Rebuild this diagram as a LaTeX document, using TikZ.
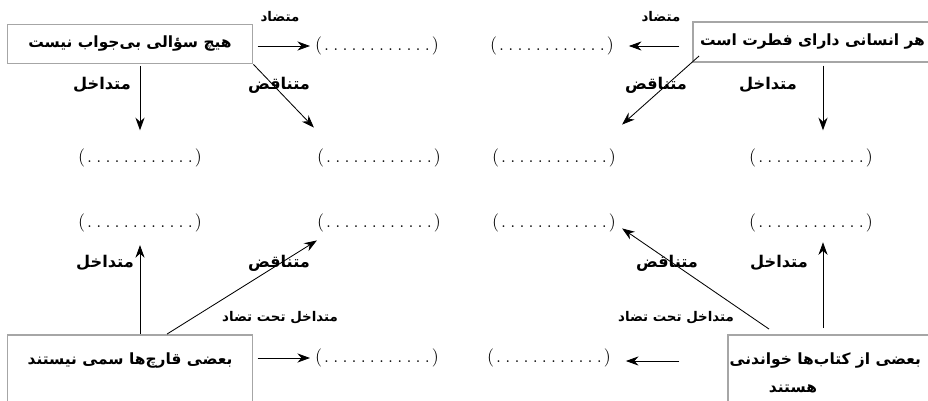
\documentclass[tikz,border=0pt]{standalone}
\usepackage{fontspec}
\newfontfamily\arabicfont[Script=Arabic]{DejaVu Sans}
\TeXXeTstate=1
\usetikzlibrary{arrows.meta,calc}

\newcommand{\fa}[1]{\arabicfont\bfseries\beginR #1\endR}
\newcommand{\blank}{(\hbox to 78pt{\leaders\hbox to 6.5pt{\hss.\hss}\hfill})}

\begin{document}
\begin{tikzpicture}
[
	              x = 0.025cm,
	              y = -0.025cm,
	           >= {Stealth[length=9pt, width=6.5pt]},
	   prop/.style = { draw=black!35, line width=1.3pt, inner sep=0pt, font=\fontsize{11}{20}\selectfont, align=center },
	  blank/.style = { inner sep=0pt, font=\fontsize{13}{15}\selectfont },
	    rel/.style = { inner sep=0pt, font=\fontsize{11.5}{14}\selectfont },
	 relsm/.style = { inner sep=0pt, font=\fontsize{9.5}{11}\selectfont },
	  conn/.style = { ->, line width=0.6pt }
]
	\useasboundingbox (0,0) rectangle (928,401);
	\clip (0,0) rectangle (928,401);

	% propositions
	\node (hl) at (130,44)  [prop, minimum width=6.125cm, minimum height=0.975cm] {\fa{هیچ سؤالی بی‌جواب نیست}};
	\node (hr) at (823,42)  [prop, minimum width=6.5cm, minimum height=1cm] {\hspace*{-15pt}\fa{هر انسانی دارای فطرت است}};
	\node (bl) at (130,373) [prop, minimum width=6.125cm, minimum height=1.9cm] {\fa{بعضی قارچ‌ها سمی نیستند}\\ \mbox{}};
	\node (br) at (838,373) [prop, minimum width=5.5cm, minimum height=1.9cm] {\hspace*{-18pt}\fa{بعضی از کتاب‌ها خواندنی}\\\hspace*{-64pt}\fa{هستند}};

	% blanks
	\node (q1) at (377,46)  [blank] {\blank};
	\node (q2) at (552,46)  [blank] {\blank};
	\node (a1) at (140,158) [blank] {\blank};
	\node (a2) at (379,158) [blank] {\blank};
	\node (a3) at (554,158) [blank] {\blank};
	\node (a4) at (811,158) [blank] {\blank};
	\node (b1) at (140,223) [blank] {\blank};
	\node (b2) at (379,223) [blank] {\blank};
	\node (b3) at (554,223) [blank] {\blank};
	\node (b4) at (811,223) [blank] {\blank};
	\node (r1) at (377,358) [blank] {\blank};
	\node (r2) at (549,358) [blank] {\blank};

	% relation labels
	\node (m1) at (280,17)  [relsm] {\fa{متضاد}};
	\node (m2) at (661,17)  [relsm] {\fa{متضاد}};
	\node (d1) at (102,85)  [rel]   {\fa{متداخل}};
	\node (d2) at (768,85)  [rel]   {\fa{متداخل}};
	\node (d3) at (105,263) [rel]   {\fa{متداخل}};
	\node (d4) at (779,263) [rel]   {\fa{متداخل}};
	\node (n1) at (279,85)  [rel]   {\fa{متناقض}};
	\node (n2) at (656,85)  [rel]   {\fa{متناقض}};
	\node (n3) at (279,263) [rel]   {\fa{متناقض}};
	\node (n4) at (667,263) [rel]   {\fa{متناقض}};
	\node (s1) at (280,318) [relsm] {\fa{متداخل تحت تضاد}};
	\node (s2) at (676,318) [relsm] {\fa{متداخل تحت تضاد}};

	% edges
	\draw [conn, shorten <=3pt, shorten >=3.5pt] (hl.east |- q1.west) -- (q1.west);
	\draw [conn, shorten <=1pt, shorten >=13pt] (hl.south -| a1) -- (a1.north);
	\draw [conn] (hl.south east) -- ($(a2.north west)+(-3,-21)$);
	\draw [conn, shorten <=9pt, shorten >=10.5pt] (hr.west |- q2.east) -- (q2.east);
	\draw [conn] ($(hr.west)+(7,14)$) -- ($(a3.north east)+(6,-24)$);
	\draw [conn, shorten <=2pt, shorten >=13pt] (hr.south) -- (hr.south |- a4.north);

	\draw [conn, shorten >=9pt] (bl.north -| b1) -- (b1.south);
	\draw [conn] ($(bl.north)+(37,0)$) -- ($(b2.south west)+(0,8)$);
	\draw [conn, shorten <=3pt, shorten >=3.5pt] (bl.east |- r1.west) -- (r1.west);
	\draw [conn, shorten <=34pt, shorten >=10.5pt] ($(br.west |- r2.east)+(0,3)$) -- ($(r2.east)+(0,3)$);
	\draw [conn] ($(br.north west)+(42,-5)$) -- ($(b3.south east)+(6,-4)$);
	\draw [conn, shorten >=7pt] ($(br.north -| b4)+(12,-6)$) -- ($(b4.south)+(12,0)$);
\end{tikzpicture}
\end{document}
